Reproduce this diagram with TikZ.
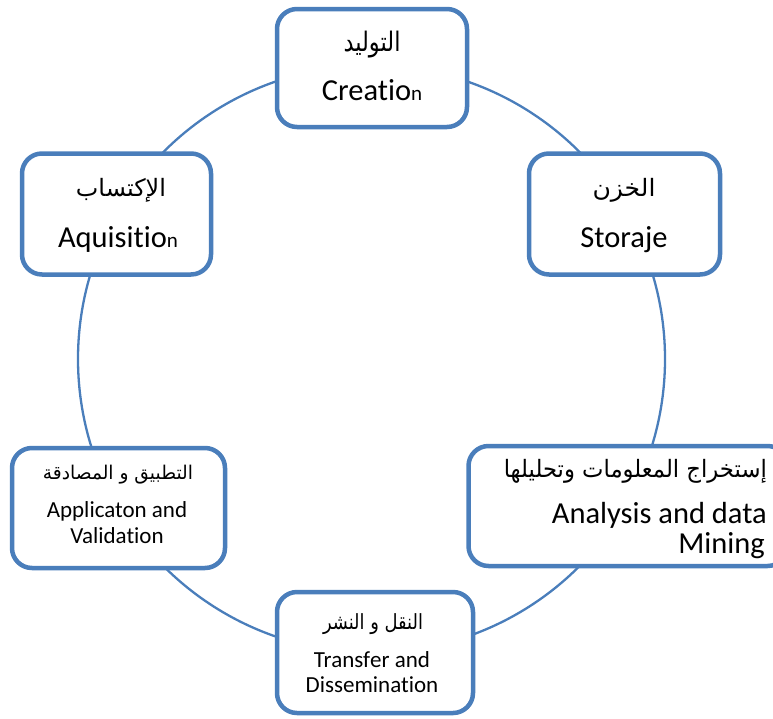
\documentclass[tikz,border=0pt]{standalone}
\usepackage{graphicx}
\usepackage{fontspec}
\setmainfont{Carlito}[RawFeature={-liga;-clig;-calt;-dlig}]
\newfontfamily\arabicfont[Script=Arabic]{DejaVu Sans}
\TeXXeTstate=1
\definecolor{bordc}{HTML}{4A7EBB}
\newcommand{\nolig}{\kern0pt}
\begin{document}
\begin{tikzpicture}[x=1pt,y=-1pt,
  box/.style={draw=bordc, line width=4.5pt, rounded corners=20pt, fill=white, inner sep=0pt},
  ring/.style={draw=bordc, line width=2.3pt},
  big/.style={anchor=base, inner sep=0pt, font=\fontsize{30.5}{36}\selectfont},
  mid/.style={anchor=base, inner sep=0pt, font=\fontsize{23}{27}\selectfont},
  ar/.style={anchor=base, inner sep=0pt}]
\useasboundingbox (0,0) rectangle (773,718);
\clip (0,0) rectangle (773,718);
% cycle
\coordinate (ctr) at (371.5,359);
\draw[ring] (ctr) circle[radius=293.5pt];
% boxes
\node[box, minimum width=190pt, minimum height=118pt] (cre) at (372,68) {};
\node[box, minimum width=191pt, minimum height=121pt] (sto) at (624.5,214) {};
\node[box, minimum width=189pt, minimum height=121pt] (aqu) at (116.5,214) {};
\node[box, minimum width=319pt, minimum height=120pt] (ana) at (628,506) {};
\node[box, minimum width=213pt, minimum height=120pt] (app) at (118.5,508) {};
\node[box, minimum width=196pt, minimum height=121pt] (tra) at (375,652.5) {};
% texts
\node[ar] (creA) at (372,51) {\resizebox*{57pt}{27pt}{\arabicfont\beginR التوليد\endR}};
\node[big] (creE) at (372,100) {Creat\nolig io{\fontsize{21}{24}\selectfont n}};
\node[ar] (stoA) at (624,196) {\resizebox*{63pt}{24pt}{\arabicfont\beginR الخزن\endR}};
\node[big] (stoE) at (624,247) {Storaje};
\node[ar] (aquA) at (121,196) {\resizebox*{90pt}{24pt}{\arabicfont\beginR الإكتساب\endR}};
\node[big] (aquE) at (118,247) {Aquisit\nolig io{\fontsize{21}{24}\selectfont n}};
\node[ar, anchor=base east] (anaA) at (767,477) {\resizebox*{263pt}{24pt}{\arabicfont\beginR إستخراج المعلومات وتحليلها\endR}};
\node[big, anchor=base east] (anaE1) at (767,523) {Analysis and data};
\node[big, anchor=base east] (anaE2) at (765,553) {Mining};
\node[ar] (appA) at (118,479) {\resizebox*{150pt}{19pt}{\arabicfont\beginR التطبيق و المصادقة\endR}};
\node[mid] (appE1) at (117,517) {Applicaton and};
\node[mid] (appE2) at (117,543) {Validat\nolig ion};
\node[ar] (traA) at (373,629) {\resizebox*{100pt}{21pt}{\arabicfont\beginR النقل و النشر\endR}};
\node[mid] (traE1) at (372,667) {Transf\nolig er and};
\node[mid] (traE2) at (372,692) {Disseminat\nolig ion};
\end{tikzpicture}
\end{document}
